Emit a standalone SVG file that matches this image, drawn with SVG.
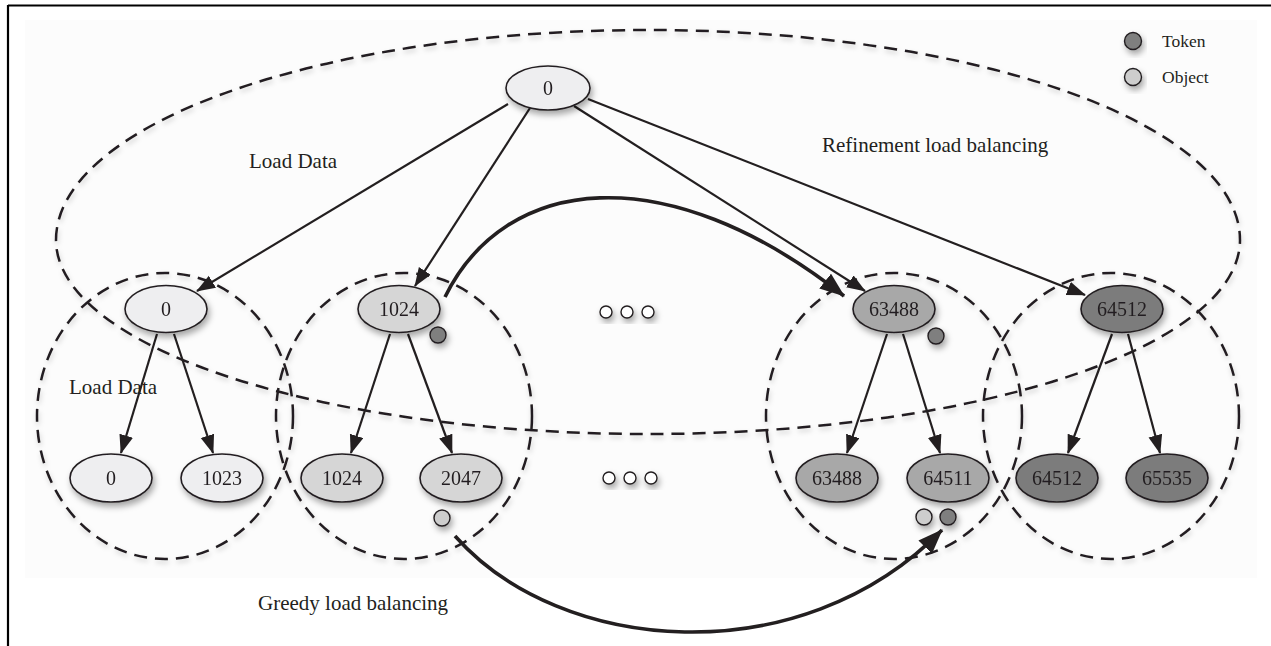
<svg xmlns="http://www.w3.org/2000/svg" width="1271" height="646" viewBox="0 0 1271 646">
<style>
.dash{fill:none;stroke:#231f20;stroke-width:2.5;stroke-dasharray:13 8}
.edge{fill:none;stroke:#231f20;stroke-width:2.2}
.thick{fill:none;stroke:#231f20;stroke-width:3.6}
.n{stroke:#231f20;stroke-width:1.6}
.l1{fill:#eeeef0}.l2{fill:#d6d6d6}.l3{fill:#a8a8a8}.l4{fill:#7c7c7c}
.tok{fill:#7f7f7f;stroke:#231f20;stroke-width:1.4}
.obj{fill:#cdcdcd;stroke:#231f20;stroke-width:1.4}
.dot{fill:#ffffff;stroke:#231f20;stroke-width:1.4}
.num{font-family:"Liberation Serif","Times New Roman",serif;font-size:20px;fill:#231f20;text-anchor:middle}
.lbl{font-family:"Liberation Serif","Times New Roman",serif;font-size:21px;fill:#231f20}
.leg{font-family:"Liberation Serif","Times New Roman",serif;font-size:17.5px;fill:#231f20}
</style>
<defs>
<filter id="sh" x="-30%" y="-30%" width="160%" height="180%">
<feDropShadow dx="2" dy="4" stdDeviation="3" flood-color="#000" flood-opacity="0.35"/>
</filter>
<filter id="sh2" x="-10%" y="-10%" width="120%" height="125%">
<feDropShadow dx="1" dy="3" stdDeviation="2.5" flood-color="#000" flood-opacity="0.18"/>
</filter>
<marker id="ah" markerUnits="userSpaceOnUse" markerWidth="20" markerHeight="16" refX="18" refY="7" orient="auto">
<path d="M0,0 L19,7 L0,14 z" fill="#231f20"/>
</marker>
<marker id="ahb" markerUnits="userSpaceOnUse" markerWidth="26" markerHeight="20" refX="24" refY="9.5" orient="auto">
<path d="M0,0 L25,9.5 L0,19 z" fill="#231f20"/>
</marker>
</defs>
<rect x="0" y="0" width="1271" height="646" fill="#ffffff"/>
<rect x="25" y="20" width="1232" height="558" fill="#fcfcfc"/>
<path d="M8,5.5 H1271 M8,5 V646" stroke="#000" stroke-width="2.2" fill="none"/>

<g id="regions" filter="url(#sh2)">
<path class="dash" d="M56,240 A592,210 0 0 1 1240,240 A592,194 0 0 1 56,240 Z"/>
<ellipse class="dash" cx="165" cy="416" rx="128" ry="143"/>
<ellipse class="dash" cx="404" cy="416" rx="128" ry="143"/>
<ellipse class="dash" cx="894" cy="416" rx="128" ry="143"/>
<ellipse class="dash" cx="1111" cy="416" rx="128" ry="143"/>
</g>

<g id="connectors">
<line class="edge" x1="508" y1="104" x2="197" y2="291" marker-end="url(#ah)"/>
<line class="edge" x1="530" y1="108" x2="415" y2="286" marker-end="url(#ah)"/>
<line class="edge" x1="574" y1="106" x2="865" y2="291" marker-end="url(#ah)"/>
<line class="edge" x1="588" y1="99" x2="1085" y2="295" marker-end="url(#ah)"/>
<line class="edge" x1="157" y1="334" x2="121" y2="453" marker-end="url(#ah)"/>
<line class="edge" x1="174" y1="334" x2="213" y2="453" marker-end="url(#ah)"/>
<line class="edge" x1="390" y1="334" x2="351" y2="453" marker-end="url(#ah)"/>
<line class="edge" x1="408" y1="334" x2="452" y2="453" marker-end="url(#ah)"/>
<line class="edge" x1="887" y1="334" x2="847" y2="453" marker-end="url(#ah)"/>
<line class="edge" x1="903" y1="334" x2="940" y2="453" marker-end="url(#ah)"/>
<line class="edge" x1="1112" y1="334" x2="1068" y2="453" marker-end="url(#ah)"/>
<line class="edge" x1="1128" y1="334" x2="1160" y2="453" marker-end="url(#ah)"/>
<path class="thick" d="M445,297 C505,175 665,155 844,296" marker-end="url(#ahb)"/>
<path class="thick" d="M455,536 C560,655 800,675 942,530" marker-end="url(#ahb)"/>
</g>

<g id="node-root" filter="url(#sh)"><ellipse class="n l1" cx="548" cy="88" rx="42" ry="22"/><text class="num" x="548" y="95">0</text></g>

<g id="node-a" filter="url(#sh)"><ellipse class="n l1" cx="166" cy="309" rx="41" ry="23.5"/><text class="num" x="166" y="316">0</text></g>
<g id="node-a1" filter="url(#sh)"><ellipse class="n l1" cx="111" cy="478" rx="41" ry="24"/><text class="num" x="111" y="485">0</text></g>
<g id="node-a2" filter="url(#sh)"><ellipse class="n l1" cx="222" cy="478" rx="41" ry="24"/><text class="num" x="222" y="485">1023</text></g>

<g id="node-b" filter="url(#sh)"><ellipse class="n l2" cx="399" cy="309" rx="41" ry="23.5"/><text class="num" x="399" y="316">1024</text></g>
<g id="node-b1" filter="url(#sh)"><ellipse class="n l2" cx="342" cy="478" rx="41" ry="24"/><text class="num" x="342" y="485">1024</text></g>
<g id="node-b2" filter="url(#sh)"><ellipse class="n l2" cx="461" cy="478" rx="41" ry="24"/><text class="num" x="461" y="485">2047</text></g>

<g id="node-c" filter="url(#sh)"><ellipse class="n l3" cx="894" cy="309" rx="41" ry="23.5"/><text class="num" x="894" y="316">63488</text></g>
<g id="node-c1" filter="url(#sh)"><ellipse class="n l3" cx="837" cy="478" rx="41" ry="24"/><text class="num" x="837" y="485">63488</text></g>
<g id="node-c2" filter="url(#sh)"><ellipse class="n l3" cx="948" cy="478" rx="41" ry="24"/><text class="num" x="948" y="485">64511</text></g>

<g id="node-d" filter="url(#sh)"><ellipse class="n l4" cx="1122" cy="309" rx="41" ry="23.5"/><text class="num" x="1122" y="316">64512</text></g>
<g id="node-d1" filter="url(#sh)"><ellipse class="n l4" cx="1057" cy="478" rx="41" ry="24"/><text class="num" x="1057" y="485">64512</text></g>
<g id="node-d2" filter="url(#sh)"><ellipse class="n l4" cx="1167" cy="478" rx="41" ry="24"/><text class="num" x="1167" y="485">65535</text></g>

<g id="markers" filter="url(#sh)">
<circle class="tok" cx="438" cy="335" r="8"/>
<circle class="obj" cx="442" cy="518" r="8"/>
<circle class="tok" cx="936" cy="336" r="8"/>
<circle class="obj" cx="924" cy="517" r="8"/>
<circle class="tok" cx="948" cy="517" r="8"/>
</g>

<g id="ellipsis-top" filter="url(#sh)">
<circle class="dot" cx="606" cy="312" r="6"/><circle class="dot" cx="627" cy="312" r="6"/><circle class="dot" cx="648" cy="312" r="6"/>
</g>
<g id="ellipsis-bottom" filter="url(#sh)">
<circle class="dot" cx="609" cy="478" r="6"/><circle class="dot" cx="630" cy="478" r="6"/><circle class="dot" cx="651" cy="478" r="6"/>
</g>

<g id="legend">
<circle class="tok" cx="1133" cy="41" r="8.5" filter="url(#sh)"/>
<text class="leg" x="1162" y="47">Token</text>
<circle class="obj" cx="1133" cy="77" r="8.5" filter="url(#sh)"/>
<text class="leg" x="1162" y="83">Object</text>
</g>

<g id="labels">
<text class="lbl" x="249" y="168">Load Data</text>
<text class="lbl" x="69" y="394">Load Data</text>
<text class="lbl" x="822" y="152">Refinement load balancing</text>
<text class="lbl" x="258" y="610">Greedy load balancing</text>
</g>
</svg>
